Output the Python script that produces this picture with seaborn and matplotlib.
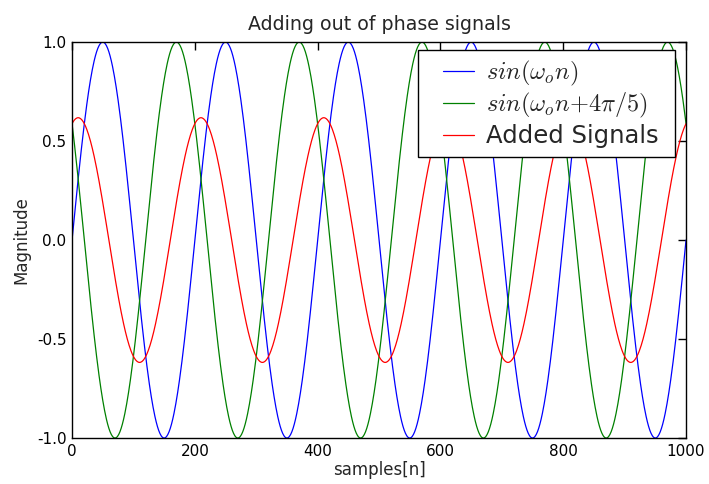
import numpy as np
import pandas as pd
import matplotlib
matplotlib.use('Agg')
import matplotlib.pyplot as plt
import seaborn as sns
from matplotlib.legend_handler import HandlerLine2D

# signal parameters
n_samples = 1000
period = 200          # samples per cycle
phase = 4 * np.pi / 5

n = np.arange(0, n_samples + 1)
w0 = 2 * np.pi / period
sig1 = np.sin(w0 * n)
sig2 = np.sin(w0 * n + phase)
added = sig1 + sig2

labels = [r'$sin(\omega_o n)$', r'$sin(\omega_o n{+}4\pi/5)$', 'Added Signals ']
colors = ['#0000ff', '#008000', '#ff0000']

df = pd.DataFrame({'n': np.tile(n, 3),
                   'value': np.concatenate([sig1, sig2, added]),
                   'signal': np.repeat(labels, len(n))})


class ShortLine(HandlerLine2D):
    # draw the legend line only on the right part of the handle box
    def create_artists(self, legend, orig_handle, xdescent, ydescent,
                       width, height, fontsize, trans):
        arts = super().create_artists(legend, orig_handle, xdescent, ydescent,
                                      width, height, fontsize, trans)
        for a in arts:
            y = a.get_ydata()[0]
            a.set_data([-xdescent + 0.33 * width, -xdescent + 0.98 * width], [y, y])
        return arts


sns.set_style('white')
plt.rcParams['font.family'] = ['DejaVu Sans']
plt.rcParams['mathtext.fontset'] = 'cm'
plt.rcParams['axes.unicode_minus'] = False

fig = plt.figure(figsize=(7.09, 4.84), dpi=100)
ax = fig.add_axes([0.1016, 0.095, 0.866, 0.818])

sns.lineplot(data=df, x='n', y='value', hue='signal', palette=colors,
             linewidth=0.9, ax=ax)

ax.set_xlim(0, 1000)
ax.set_ylim(-1.0, 1.0)
ax.set_xticks([0, 200, 400, 600, 800, 1000])
ax.set_yticks([-1.0, -0.5, 0.0, 0.5, 1.0])
ax.set_yticklabels(['%.1f' % v for v in [-1.0, -0.5, 0.0, 0.5, 1.0]])
ax.tick_params(direction='in', length=6, width=1, top=True, right=True,
               labelsize=11, pad=4, colors='black')
for s in ax.spines.values():
    s.set_color('black')
    s.set_linewidth(1)

ax.set_title('Adding out of phase signals', fontsize=13.7, pad=9)
ax.set_xlabel('samples[n]', fontsize=12, labelpad=2)
ax.set_ylabel('Magnitude', fontsize=12, labelpad=5)

leg = ax.legend(loc='upper right', bbox_to_anchor=(0.982, 0.98),
                borderaxespad=0, fontsize=17.5, fancybox=False,
                framealpha=1, edgecolor='black', handlelength=2.0,
                handletextpad=0.45, labelspacing=0.15,
                borderpad=0.35, handler_map={plt.Line2D: ShortLine()})
leg.get_frame().set_linewidth(1)

fig.savefig('out.png', dpi=100)
